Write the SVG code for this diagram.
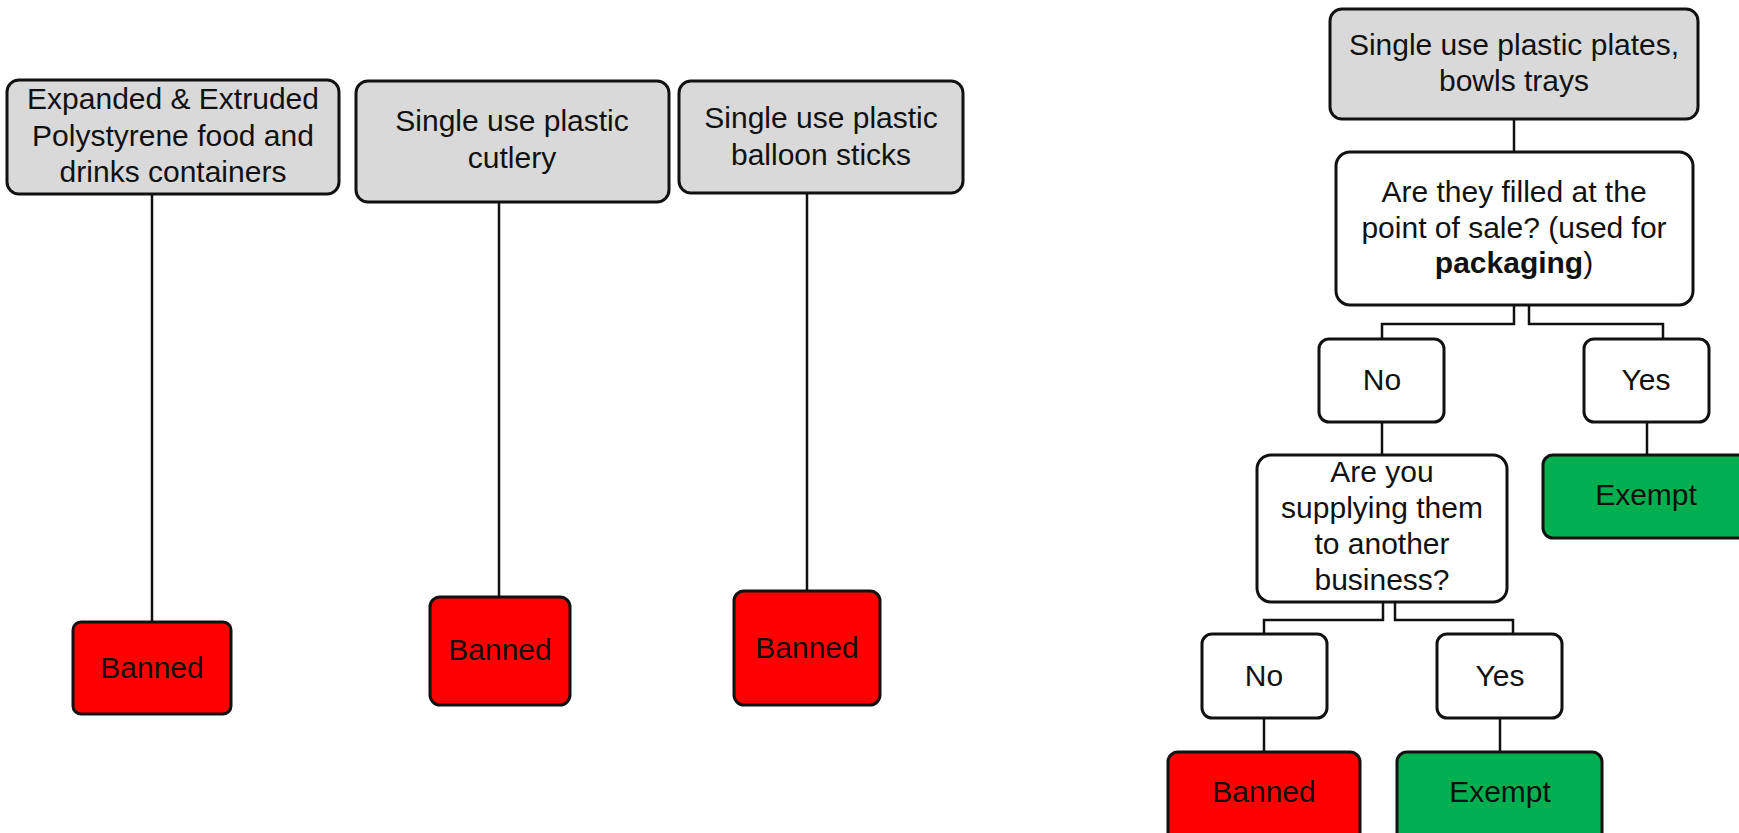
<svg xmlns="http://www.w3.org/2000/svg" width="1739" height="833" viewBox="0 0 1739 833">
<style>
.box{stroke:#111;stroke-width:3;}
.grey{fill:#d9d9d9;}
.white{fill:#ffffff;}
.red{fill:#ff0000;}
.green{fill:#00b050;}
text{font-family:"Liberation Sans",Arial,sans-serif;font-size:30px;fill:#111;text-anchor:middle;}
.conn{fill:none;stroke:#111;stroke-width:2.5;}
</style>
<rect width="1739" height="833" fill="#ffffff"/>
<g id="connectors">
<path class="conn" d="M152,194 V622"/>
<path class="conn" d="M499,202 V597"/>
<path class="conn" d="M807,193 V591"/>
<path class="conn" d="M1514,119 V152"/>
<path class="conn" d="M1514,305 V324 H1382 V339"/>
<path class="conn" d="M1529,305 V324 H1663 V339"/>
<path class="conn" d="M1382,422 V455"/>
<path class="conn" d="M1647,422 V455"/>
<path class="conn" d="M1383,602 V620 H1264 V634"/>
<path class="conn" d="M1395,602 V620 H1513 V634"/>
<path class="conn" d="M1264,718 V752"/>
<path class="conn" d="M1500,718 V752"/>
</g>
<g id="eps">
<rect class="box grey" x="7" y="80" width="332" height="114" rx="12"/>
<text x="173" y="109">Expanded &amp; Extruded</text>
<text x="173" y="146">Polystyrene food and</text>
<text x="173" y="182">drinks containers</text>
</g>
<g id="cutlery">
<rect class="box grey" x="356" y="81" width="313" height="121" rx="12"/>
<text x="512" y="131">Single use plastic</text>
<text x="512" y="168">cutlery</text>
</g>
<g id="balloon">
<rect class="box grey" x="679" y="81" width="284" height="112" rx="12"/>
<text x="821" y="128">Single use plastic</text>
<text x="821" y="165">balloon sticks</text>
</g>
<g id="banned1">
<rect class="box red" x="73" y="622" width="158" height="92" rx="8"/>
<text x="152" y="678">Banned</text>
</g>
<g id="banned2">
<rect class="box red" x="430" y="597" width="140" height="108" rx="10"/>
<text x="500" y="660">Banned</text>
</g>
<g id="banned3">
<rect class="box red" x="734" y="591" width="146" height="114" rx="10"/>
<text x="807" y="658">Banned</text>
</g>
<g id="plates">
<rect class="box grey" x="1330" y="9" width="368" height="110" rx="12"/>
<text x="1514" y="55">Single use plastic plates,</text>
<text x="1514" y="91">bowls trays</text>
</g>
<g id="q1">
<rect class="box white" x="1336" y="152" width="357" height="153" rx="14"/>
<text x="1514" y="202">Are they filled at the</text>
<text x="1514" y="238">point of sale? (used for</text>
<text x="1514" y="273"><tspan font-weight="bold">packaging</tspan>)</text>
</g>
<g id="no1">
<rect class="box white" x="1319" y="339" width="125" height="83" rx="10"/>
<text x="1382" y="390">No</text>
</g>
<g id="yes1">
<rect class="box white" x="1584" y="339" width="125" height="83" rx="10"/>
<text x="1646" y="390">Yes</text>
</g>
<g id="exempt1">
<rect class="box green" x="1543" y="455" width="210" height="83" rx="10"/>
<text x="1646" y="505">Exempt</text>
</g>
<g id="q2">
<rect class="box white" x="1257" y="455" width="250" height="147" rx="14"/>
<text x="1382" y="482">Are you</text>
<text x="1382" y="518">supplying them</text>
<text x="1382" y="554">to another</text>
<text x="1382" y="590">business?</text>
</g>
<g id="no2">
<rect class="box white" x="1202" y="634" width="125" height="84" rx="10"/>
<text x="1264" y="686">No</text>
</g>
<g id="yes2">
<rect class="box white" x="1437" y="634" width="125" height="84" rx="10"/>
<text x="1500" y="686">Yes</text>
</g>
<g id="banned4">
<rect class="box red" x="1168" y="752" width="192" height="95" rx="10"/>
<text x="1264" y="802">Banned</text>
</g>
<g id="exempt2">
<rect class="box green" x="1397" y="752" width="205" height="95" rx="10"/>
<text x="1500" y="802">Exempt</text>
</g>
</svg>
